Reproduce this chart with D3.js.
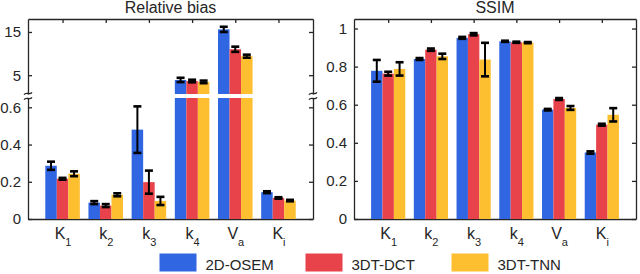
<!DOCTYPE html>
<html>
<head>
<meta charset="utf-8">
<script src="https://cdn.jsdelivr.net/npm/d3@7"></script>
<style>
  body { margin: 0; background: #fff; }
  svg { font-family: "Liberation Sans", Arial, sans-serif; display: block; }
  .axis path, .axis line { stroke: #262626; stroke-width: 1.3; }
  .axis text { fill: #262626; font-size: 15px; }
</style>
</head>
<body>
<div id="chart"></div>
<script>
// categories (letter + subscript)
var catMain = ['K', 'k', 'k', 'k', 'V', 'K'];
var catSub = ['1', '2', '3', '4', 'a', 'i'];
var seriesNames = ['2D-OSEM', '3DT-DCT', '3DT-TNN'];
var seriesColors = ['#3066e2', '#e8434a', '#fdbe2f'];

// relative bias, mean and error
var biasOSEM = [0.286, 0.088, 0.48, 3.9, 15.6, 0.144];
var biasDCT = [0.216, 0.072, 0.198, 3.65, 11.0, 0.113];
var biasTNN = [0.243, 0.13, 0.097, 3.45, 9.4, 0.099];
var biasErrOSEM = [0.022, 0.008, 0.125, 0.5, 0.6, 0.005];
var biasErrDCT = [0.005, 0.008, 0.062, 0.3, 0.6, 0.004];
var biasErrTNN = [0.013, 0.008, 0.022, 0.3, 0.35, 0.004];

// SSIM, mean and error
var ssimOSEM = [0.778, 0.84, 0.951, 0.933, 0.574, 0.349];
var ssimDCT = [0.763, 0.889, 0.97, 0.928, 0.63, 0.495];
var ssimTNN = [0.788, 0.854, 0.837, 0.926, 0.583, 0.547];
var ssimErrOSEM = [0.057, 0.005, 0.005, 0.003, 0.004, 0.006];
var ssimErrDCT = [0.01, 0.006, 0.006, 0.003, 0.005, 0.005];
var ssimErrTNN = [0.035, 0.014, 0.088, 0.003, 0.01, 0.035];

// y ticks
var biasLowTicks = [0, 0.2, 0.4, 0.6];
var biasHighTicks = [5, 15];
var ssimTicks = [0, 0.2, 0.4, 0.6, 0.8, 1];

const W = 640, H = 274;
const yTop = 19, yBot = 219;

const svg = d3.select('#chart').append('svg').attr('width', W).attr('height', H);

function toRows(means, errs) {
  var rows = [];
  means.forEach(function(arr, s) {
    arr.forEach(function(v, i) { rows.push({s: s, i: i, v: v, e: errs[s][i]}); });
  });
  return rows;
}

const biasRows = toRows([biasOSEM, biasDCT, biasTNN], [biasErrOSEM, biasErrDCT, biasErrTNN]);
const ssimRows = toRows([ssimOSEM, ssimDCT, ssimTNN], [ssimErrOSEM, ssimErrDCT, ssimErrTNN]);

function makeX(x0, x1) {
  return d3.scaleLinear().domain([0.2, 6.8]).range([x0, x1]);
}
const inner = d3.scaleBand().domain([0, 1, 2]).range([-0.4, 0.4]);

function catAxes(g, x) {
  const idx = d3.range(1, 7);
  g.append('g').attr('class', 'axis').attr('transform', 'translate(0,' + yTop + ')')
    .call(d3.axisTop(x).tickValues(idx).tickSizeInner(-4).tickSizeOuter(0).tickFormat(''));
  const b = g.append('g').attr('class', 'axis').attr('transform', 'translate(0,' + yBot + ')')
    .call(d3.axisBottom(x).tickValues(idx).tickSizeInner(-4).tickSizeOuter(0).tickPadding(9)
      .tickFormat(''));
  b.selectAll('.tick').append('text')
    .attr('fill', '#262626').attr('y', 19.5).attr('text-anchor', 'middle')
    .each(function(d) {
      const t = d3.select(this);
      t.append('tspan').style('font-size', '16px').text(catMain[d - 1]);
      t.append('tspan').style('font-size', '11px').attr('dy', 7.5).text(catSub[d - 1]);
    });
}

function errorBars(g, rows, x, yFn) {
  const eb = g.append('g').attr('stroke', '#000');
  rows.forEach(function(r) {
    const cx = x(r.i + 1 + inner(r.s) + inner.bandwidth() / 2);
    const y1 = yFn(r.v + r.e), y2 = yFn(r.v - r.e);
    eb.append('line').attr('x1', cx).attr('x2', cx).attr('y1', y1).attr('y2', y2).attr('stroke-width', 2);
    [y1, y2].forEach(function(yy) {
      eb.append('line').attr('x1', cx - 4).attr('x2', cx + 4).attr('y1', yy).attr('y2', yy).attr('stroke-width', 2.6);
    });
  });
}

// ---------- Relative bias (broken axis) ----------
(function() {
  const x0 = 28, x1 = 313;
  const x = makeX(x0, x1);
  const yLow = d3.scaleLinear().domain([0, 0.65]).range([yBot, 98]);
  const yHigh = d3.scaleLinear().domain([0.65, 18]).range([94, yTop]);
  const yOf = v => v <= 0.65 ? yLow(v) : yHigh(v);
  const g = svg.append('g');

  catAxes(g, x);

  const bw = inner.bandwidth();
  const bars = g.append('g');
  biasRows.forEach(function(r) {
    const bx = x(r.i + 1 + inner(r.s));
    const w = x(bw) - x(0);
    const lowTop = yLow(Math.min(r.v, 0.65));
    bars.append('rect').attr('x', bx).attr('width', w).attr('y', lowTop).attr('height', yBot - lowTop)
      .attr('fill', seriesColors[r.s]);
    if (r.v > 0.65) {
      bars.append('rect').attr('x', bx).attr('width', w).attr('y', yHigh(r.v)).attr('height', 94 - yHigh(r.v))
        .attr('fill', seriesColors[r.s]);
    }
  });
  errorBars(g, biasRows, x, yOf);

  // left and right axes, two segments each
  [[yLow, biasLowTicks], [yHigh, biasHighTicks]].forEach(function(p) {
    g.append('g').attr('class', 'axis').attr('transform', 'translate(' + x0 + ',0)')
      .call(d3.axisLeft(p[0]).tickValues(p[1]).tickSizeInner(-4).tickSizeOuter(0).tickPadding(7)
        .tickFormat(d3.format('')));
    g.append('g').attr('class', 'axis').attr('transform', 'translate(' + x1 + ',0)')
      .call(d3.axisRight(p[0]).tickValues(p[1]).tickSizeInner(-4).tickSizeOuter(0).tickFormat(''));
  });

  // break marks
  [x0, x1].forEach(function(ax) {
    [93.5, 98.5].forEach(function(yy) {
      g.append('path')
        .attr('d', 'M' + (ax - 4) + ',' + (yy + 1.2) + ' C' + (ax - 1.5) + ',' + (yy - 2.5) + ' ' + (ax + 1.5) + ',' + (yy + 2.5) + ' ' + (ax + 4) + ',' + (yy - 1.2))
        .attr('fill', 'none').attr('stroke', '#262626').attr('stroke-width', 1.3);
    });
  });

  g.append('text').attr('x', (x0 + x1) / 2).attr('y', 13).attr('text-anchor', 'middle')
    .attr('font-size', 16).attr('fill', '#262626').text('Relative bias');
})();

// ---------- SSIM ----------
(function() {
  const x0 = 354, x1 = 636;
  const x = makeX(x0, x1);
  const y = d3.scaleLinear().domain([0, 1.05]).range([yBot, yTop]);
  const g = svg.append('g');

  catAxes(g, x);

  const bw = inner.bandwidth();
  g.append('g').selectAll('rect').data(ssimRows).enter().append('rect')
    .attr('x', d => x(d.i + 1 + inner(d.s)))
    .attr('width', x(bw) - x(0))
    .attr('y', d => y(d.v))
    .attr('height', d => yBot - y(d.v))
    .attr('fill', d => seriesColors[d.s]);
  errorBars(g, ssimRows, x, y);

  g.append('g').attr('class', 'axis').attr('transform', 'translate(' + x0 + ',0)')
    .call(d3.axisLeft(y).tickValues(ssimTicks).tickSizeInner(-4).tickSizeOuter(0).tickPadding(7)
      .tickFormat(d3.format('')));
  g.append('g').attr('class', 'axis').attr('transform', 'translate(' + x1 + ',0)')
    .call(d3.axisRight(y).tickValues(ssimTicks).tickSizeInner(-4).tickSizeOuter(0).tickFormat(''));

  g.append('text').attr('x', (x0 + x1) / 2).attr('y', 13).attr('text-anchor', 'middle')
    .attr('font-size', 16).attr('fill', '#262626').text('SSIM');
})();

// ---------- legend ----------
const legendX = [159.5, 305.5, 451.5];
const lg = svg.append('g');
seriesNames.forEach(function(name, s) {
  lg.append('rect').attr('x', legendX[s]).attr('y', 253.5).attr('width', 37).attr('height', 18)
    .attr('fill', seriesColors[s]);
  lg.append('text').attr('x', legendX[s] + 46).attr('y', 270).attr('font-size', 15)
    .attr('fill', '#262626').text(name);
});
</script>
</body>
</html>
